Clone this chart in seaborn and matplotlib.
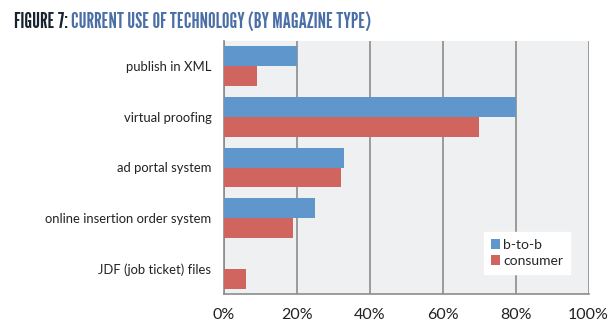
import matplotlib
matplotlib.use("Agg")
import matplotlib.pyplot as plt
import seaborn as sns
import pandas as pd

categories = ["publish in XML", "virtual proofing", "ad portal system",
              "online insertion order system", "JDF (job ticket) files"]
b_to_b = [20, 80, 33, 25, 0]
consumer = [9, 70, 32, 19, 6]
series_names = ["b-to-b", "consumer"]
tick_labels = ["0%", "20%", "40%", "60%", "80%", "100%"]

df = pd.DataFrame({
    "category": categories * 2,
    "value": b_to_b + consumer,
    "type": [series_names[0]] * len(categories) + [series_names[1]] * len(categories),
})

sns.set_theme(style="white")
plt.rcParams["font.family"] = ["Lato", "DejaVu Sans"]

fig = plt.figure(figsize=(6.14, 3.26), dpi=100)
ax = fig.add_axes([224 / 614, 1 - 294 / 326, (588.5 - 224) / 614, (294 - 41) / 326])
ax.set_facecolor("#eff0f1")

sns.barplot(data=df, y="category", x="value", hue="type", orient="h",
            palette=["#5f96cc", "#d0655f"], width=0.79, gap=0,
            saturation=1, linewidth=0, ax=ax, zorder=3)

ax.set_xlim(0, 100)
ax.set_xticks([0, 20, 40, 60, 80, 100])
ax.set_xticklabels(tick_labels, fontsize=11.5, color="#222222")
ax.tick_params(axis="y", labelsize=9.4, colors="#222222", length=0, pad=9)
ax.tick_params(axis="x", length=0, pad=10)
ax.set_xlabel("")
ax.set_ylabel("")

ax.xaxis.grid(True, color="#8c8c8c", linewidth=1.2, zorder=1)
ax.set_axisbelow(True)
for side in ["top", "right"]:
    ax.spines[side].set_visible(False)
for side in ["left", "bottom"]:
    ax.spines[side].set_color("#8c8c8c")
    ax.spines[side].set_linewidth(1.2)

leg = ax.legend(loc="lower right", bbox_to_anchor=(577 / 614, 1 - 281 / 326),
                bbox_transform=fig.transFigure, frameon=True, fancybox=False,
                fontsize=10, handlelength=0.7, handleheight=0.7,
                handletextpad=0.2, borderpad=0.5, labelspacing=0.3)
leg.get_frame().set_edgecolor("white")
leg.get_frame().set_facecolor("white")
leg.get_frame().set_alpha(1)

# Two-colour heading in a condensed face, sized so it spans x = 14..370 px
title_font = ["League Gothic", "Bebas Neue", "Barlow Condensed", "Oswald", "DejaVu Sans"]
head_left, head_right, baseline = 14, 370, 28


def draw_heading(size):
    a = fig.text(head_left / 614, 1 - baseline / 326, "FIGURE 7:", fontsize=size,
                 fontweight="heavy", family=title_font, color="#18232f",
                 ha="left", va="baseline")
    fig.canvas.draw()
    x1 = a.get_window_extent().x1
    b = fig.text((x1 + 3) / 614, 1 - baseline / 326,
                 "CURRENT USE OF TECHNOLOGY (BY MAGAZINE TYPE)",
                 fontsize=size, fontweight="heavy", family=title_font,
                 color="#4a6fa6", ha="left", va="baseline")
    fig.canvas.draw()
    return a, b


size = 20
a, b = draw_heading(size)
right = b.get_window_extent().x1
a.remove()
b.remove()
size *= (head_right - head_left) / (right - head_left)
draw_heading(size)

fig.savefig("out.png", dpi=100, facecolor="white")
